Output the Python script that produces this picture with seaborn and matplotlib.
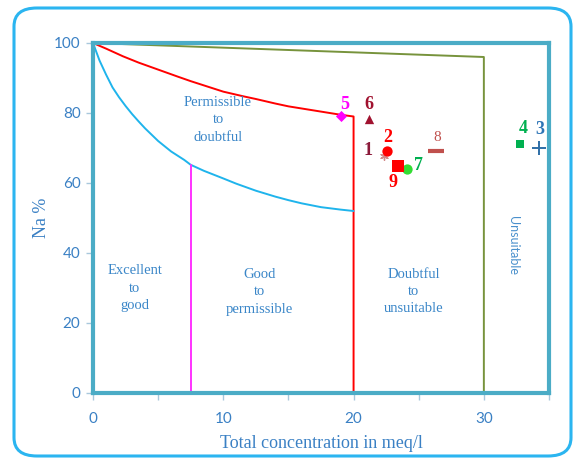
import matplotlib
matplotlib.use("Agg")
import matplotlib.pyplot as plt
import seaborn as sns
import pandas as pd
from matplotlib.patches import FancyBboxPatch

# ---- data ----
blue_x = [0, 0.5, 1, 1.5, 2, 2.5, 3, 3.5, 4, 5, 6, 7, 7.5, 8.5, 10, 11, 12.5,
          14, 15, 16, 17.5, 19, 20]
blue_y = [100, 95, 91, 87.3, 84.5, 82, 79.7, 77.6, 75.6, 72, 69, 66.6, 65.2,
          63.5, 61.3, 59.8, 57.8, 56.1, 55.1, 54.2, 53.1, 52.4, 52]
red_x = [0, 1, 2.3, 3.5, 5, 6.5, 7.5, 9, 10, 11.5, 12.5, 14, 15, 16.5, 17.5,
         19, 20, 20]
red_y = [100, 98.4, 96.2, 94.4, 92.4, 90.4, 89.1, 87.3, 86.1, 84.8, 84, 82.7,
         81.9, 81, 80.4, 79.5, 79, 0]
olive_x = [0, 30, 30]
olive_y = [100, 96, 0]
mag_x = [7.5, 7.5]
mag_y = [0, 65]

sample_ids = ["1", "2", "3", "4", "5", "6", "7", "8", "9"]
sample_tc = [22.3, 22.6, 34.2, 32.8, 19.0, 21.2, 24.1, 26.3, 23.4]
sample_na = [67.7, 69.2, 69.9, 71.1, 79.1, 78.3, 63.9, 69.1, 64.9]

region_labels = ["Excellent\nto\ngood", "Good\nto\npermissible",
                 "Permissible\nto\ndoubtful", "Doubtful\nto\nunsuitable"]
region_x = [3.2, 12.8, 9.6, 24.6]
region_y = [30, 29, 78, 29]

x_ticks = [0, 5, 10, 15, 20, 25, 30, 35]
x_ticklabels = ["0", "", "10", "", "20", "", "30", ""]
y_ticks = [0, 20, 40, 60, 80, 100]

# ---- styling ----
sns.set_theme(style="white")
plt.rcParams["font.family"] = ["Lato", "DejaVu Sans"]

W, H = 573, 459
fig = plt.figure(figsize=(W / 100, H / 100), dpi=100)
ax = fig.add_axes([93 / W, 1 - 393 / H, (549 - 93) / W, (393 - 43) / H])

spine_c = "#4bacc6"
tick_c = "#3a80c4"
serif = ["Liberation Serif", "DejaVu Serif"]

def line(xs, ys, color, lw):
    df = pd.DataFrame({"x": xs, "y": ys})
    sns.lineplot(data=df, x="x", y="y", sort=False, estimator=None, color=color,
                 lw=lw, ax=ax, zorder=2)

line(olive_x, olive_y, "#77933c", 1.4)
line(red_x, red_y, "#ff0000", 1.4)
line(blue_x, blue_y, "#1fb4ec", 1.4)
line(mag_x, mag_y, "#ff33ff", 1.4)

markers = {
    "1": dict(marker=(6, 2, 0), color="#d28a8a", s=30, lw=1.0),
    "2": dict(marker="o", color="#ff0000", s=55),
    "3": dict(marker="+", color="#2e6ea6", s=110, lw=1.4),
    "4": dict(marker="s", color="#00b050", s=40),
    "5": dict(marker="D", color="#ff00ff", s=32),
    "6": dict(marker="^", color="#a0122f", s=45),
    "7": dict(marker="o", color="#33dd33", s=55),
    "8": dict(marker="_", color="#c0504d", s=140, lw=3),
    "9": dict(marker="s", color="#ff0000", s=70),
}
pts = pd.DataFrame({"id": sample_ids, "tc": sample_tc, "na": sample_na})
for _, r in pts.iterrows():
    m = markers[r["id"]]
    sns.scatterplot(x=[r["tc"]], y=[r["na"]], ax=ax, marker=m["marker"],
                    color=m["color"], s=m["s"], linewidth=m.get("lw", 0),
                    edgecolor=m["color"], zorder=4, clip_on=False)

label_style = {
    "1": dict(dx=-1.2, dy=1.6, c="#8b1a3a", bold=True, fs=13),
    "2": dict(dx=0.0, dy=3.7, c="#ff0000", bold=True, fs=13),
    "3": dict(dx=0.1, dy=5.5, c="#2e75b6", bold=True, fs=13),
    "4": dict(dx=0.2, dy=4.6, c="#00b050", bold=True, fs=13),
    "5": dict(dx=0.35, dy=3.3, c="#ff00ff", bold=True, fs=13),
    "6": dict(dx=0.0, dy=4.2, c="#a0122f", bold=True, fs=13),
    "7": dict(dx=0.85, dy=1.0, c="#00b050", bold=True, fs=13),
    "8": dict(dx=0.15, dy=4.0, c="#c0504d", bold=False, fs=11),
    "9": dict(dx=-0.35, dy=-4.8, c="#ff0000", bold=True, fs=13),
}
for i, tc, na in zip(sample_ids, sample_tc, sample_na):
    st = label_style[i]
    ax.text(tc + st["dx"], na + st["dy"], i, color=st["c"], fontsize=st["fs"],
            fontweight="bold" if st["bold"] else "normal", family=serif,
            ha="center", va="center", zorder=5)

for t, x, y in zip(region_labels, region_x, region_y):
    ax.text(x, y, t, color="#3a86c8", fontsize=10.5, family=serif,
            ha="center", va="center", linespacing=1.45)
ax.text(32.2, 42, "Unsuitable", color="#4a90cc", fontsize=9, rotation=-90,
        ha="center", va="center")

ax.set_xlim(0, 35)
ax.set_ylim(0, 100)
ax.set_xticks(x_ticks)
ax.set_xticklabels(x_ticklabels)
ax.set_yticks(y_ticks)
ax.tick_params(axis="both", direction="out", length=5, width=1, color="#a9c8dc",
               labelcolor=tick_c, labelsize=11, bottom=True, left=True)
ax.tick_params(axis="x", pad=9)
ax.tick_params(axis="y", pad=4)
for s in ax.spines.values():
    s.set_color(spine_c)
    s.set_linewidth(3)
    s.set_zorder(3)
ax.set_xlabel("Total concentration in meq/l", color=tick_c, fontsize=13,
              family=serif, labelpad=6)
ax.set_ylabel("Na %", color=tick_c, fontsize=13, family=serif, labelpad=3)

frame = FancyBboxPatch((14 / W, 1 - 456 / H), (571 - 14) / W, (456 - 8) / H,
                       boxstyle="round,pad=0,rounding_size=0.04",
                       transform=fig.transFigure, fill=False,
                       edgecolor="#2bb5f0", lw=2.2, zorder=0)
fig.patches.append(frame)

fig.savefig("out.png", dpi=100)
